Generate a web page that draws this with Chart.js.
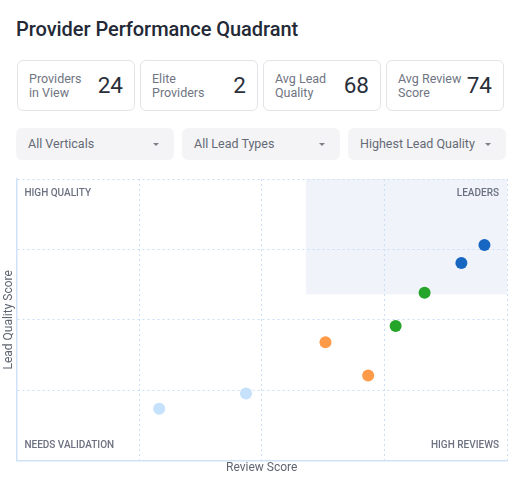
<!DOCTYPE html>
<html><head><meta charset="utf-8">
<script src="https://cdn.jsdelivr.net/npm/chart.js@4.4.1/dist/chart.umd.min.js"></script>
<style>
html,body{margin:0;padding:0;background:#fff;font-family:Roboto,"Noto Sans",sans-serif;}
#wrap{position:relative;width:522px;height:486px;overflow:hidden;}
h1{position:absolute;left:16px;top:17px;margin:0;font-size:20px;font-weight:500;color:#232936;letter-spacing:-0.05px;}
.card{position:absolute;top:60px;height:51px;width:118px;border:1px solid #e3e4e8;border-radius:6px;box-sizing:border-box;}
.card .lbl{position:absolute;left:11px;top:11px;font-size:12.5px;line-height:14px;color:#6f7582;}
.card .val{position:absolute;right:11px;top:11px;font-size:22.5px;line-height:26px;color:#2a2f3a;}
.dd{position:absolute;top:128px;height:32px;width:158px;background:#f4f4f6;border-radius:6px;box-sizing:border-box;}
.dd span{position:absolute;left:12px;top:8px;font-size:12.5px;line-height:16px;color:#646a75;}
.dd i{position:absolute;right:15px;top:15px;width:0;height:0;border-left:3px solid transparent;border-right:3px solid transparent;border-top:3px solid #7a7f88;}
#cbox{position:absolute;left:0;top:172px;width:514px;height:303px;}
</style></head>
<body><div id="wrap">
<h1>Provider Performance Quadrant</h1>
<div class="card" style="left:17px"><div class="lbl">Providers<br>in View</div><div class="val">24</div></div>
<div class="card" style="left:140px"><div class="lbl">Elite<br>Providers</div><div class="val">2</div></div>
<div class="card" style="left:263px"><div class="lbl">Avg Lead<br>Quality</div><div class="val">68</div></div>
<div class="card" style="left:386px"><div class="lbl">Avg Review<br>Score</div><div class="val">74</div></div>
<div class="dd" style="left:16px"><span>All Verticals</span><i></i></div>
<div class="dd" style="left:182px"><span>All Lead Types</span><i></i></div>
<div class="dd" style="left:348px"><span>Highest Lead Quality</span><i></i></div>
<div id="cbox"><canvas id="c"></canvas></div>
</div>
<script>
// Review score (x) / lead quality score (y) per tier
const leadersReview = [95.4, 90.7];
const leadersQuality = [76.6, 70.2];
const strongReview = [83.2, 77.3];
const strongQuality = [59.6, 47.8];
const midReview = [63.0, 71.7];
const midQuality = [42.0, 30.2];
const emergingReview = [46.8, 29.1];
const emergingQuality = [23.8, 18.4];
const axisMin = 0, axisMax = 100, axisStep = 25;
const threshold = 59;
const quadrantLabels = ['HIGH QUALITY', 'LEADERS', 'NEEDS VALIDATION', 'HIGH REVIEWS'];

const pts = (xs, ys) => xs.map((x, i) => ({x, y: ys[i]}));
const ds = (label, xs, ys, color) => ({label, data: pts(xs, ys), backgroundColor: color, borderColor: color, pointRadius: 6, pointHoverRadius: 6, borderWidth: 0});

const quadPlugin = {
  id: 'quad',
  beforeDraw(chart) {
    const {ctx, chartArea: a, scales: {x, y}} = chart;
    const x0 = x.getPixelForValue(threshold), y0 = y.getPixelForValue(threshold);
    ctx.save();
    ctx.fillStyle = '#f0f4fa';
    ctx.fillRect(x0, a.top, a.right - x0, y0 - a.top);
    ctx.restore();
  },
  afterDatasetsDraw(chart) {
    const {ctx, chartArea: a} = chart;
    ctx.save();
    ctx.font = '500 10px Roboto';
    ctx.fillStyle = '#6b7180';
    ctx.textBaseline = 'middle';
    ctx.textAlign = 'left';
    ctx.fillText(quadrantLabels[0], a.left + 8, a.top + 14);
    ctx.fillText(quadrantLabels[2], a.left + 8, a.bottom - 15);
    ctx.textAlign = 'right';
    ctx.fillText(quadrantLabels[1], a.right - 8, a.top + 14);
    ctx.fillText(quadrantLabels[3], a.right - 8, a.bottom - 15);
    ctx.restore();
  }
};

const axis = (title) => ({
  type: 'linear', min: axisMin, max: axisMax,
  ticks: {display: false, stepSize: axisStep},
  grid: {color: '#cadff6', drawTicks: false, lineWidth: 1},
  border: {display: true, color: '#cfe2f8', width: 1.5, dash: [2, 3]},
  title: {display: true, text: title, color: '#5f6571', font: {family: 'Roboto', size: 12}, padding: {top: 0, bottom: 0}}
});

new Chart(document.getElementById('c'), {
  type: 'scatter',
  data: {datasets: [
    ds('Leaders', leadersReview, leadersQuality, '#1666c2'),
    ds('Strong', strongReview, strongQuality, '#24a52a'),
    ds('Mid', midReview, midQuality, '#fe9a48'),
    ds('Emerging', emergingReview, emergingQuality, '#c5e1fc')
  ]},
  options: {
    responsive: true, maintainAspectRatio: false, animation: false,
    layout: {padding: {top: 7, right: 7, left: 2, bottom: 0}},
    plugins: {legend: {display: false}, tooltip: {enabled: false}},
    scales: {x: axis('Review Score'), y: axis('Lead Quality Score')}
  },
  plugins: [quadPlugin]
});
</script>
</body></html>
